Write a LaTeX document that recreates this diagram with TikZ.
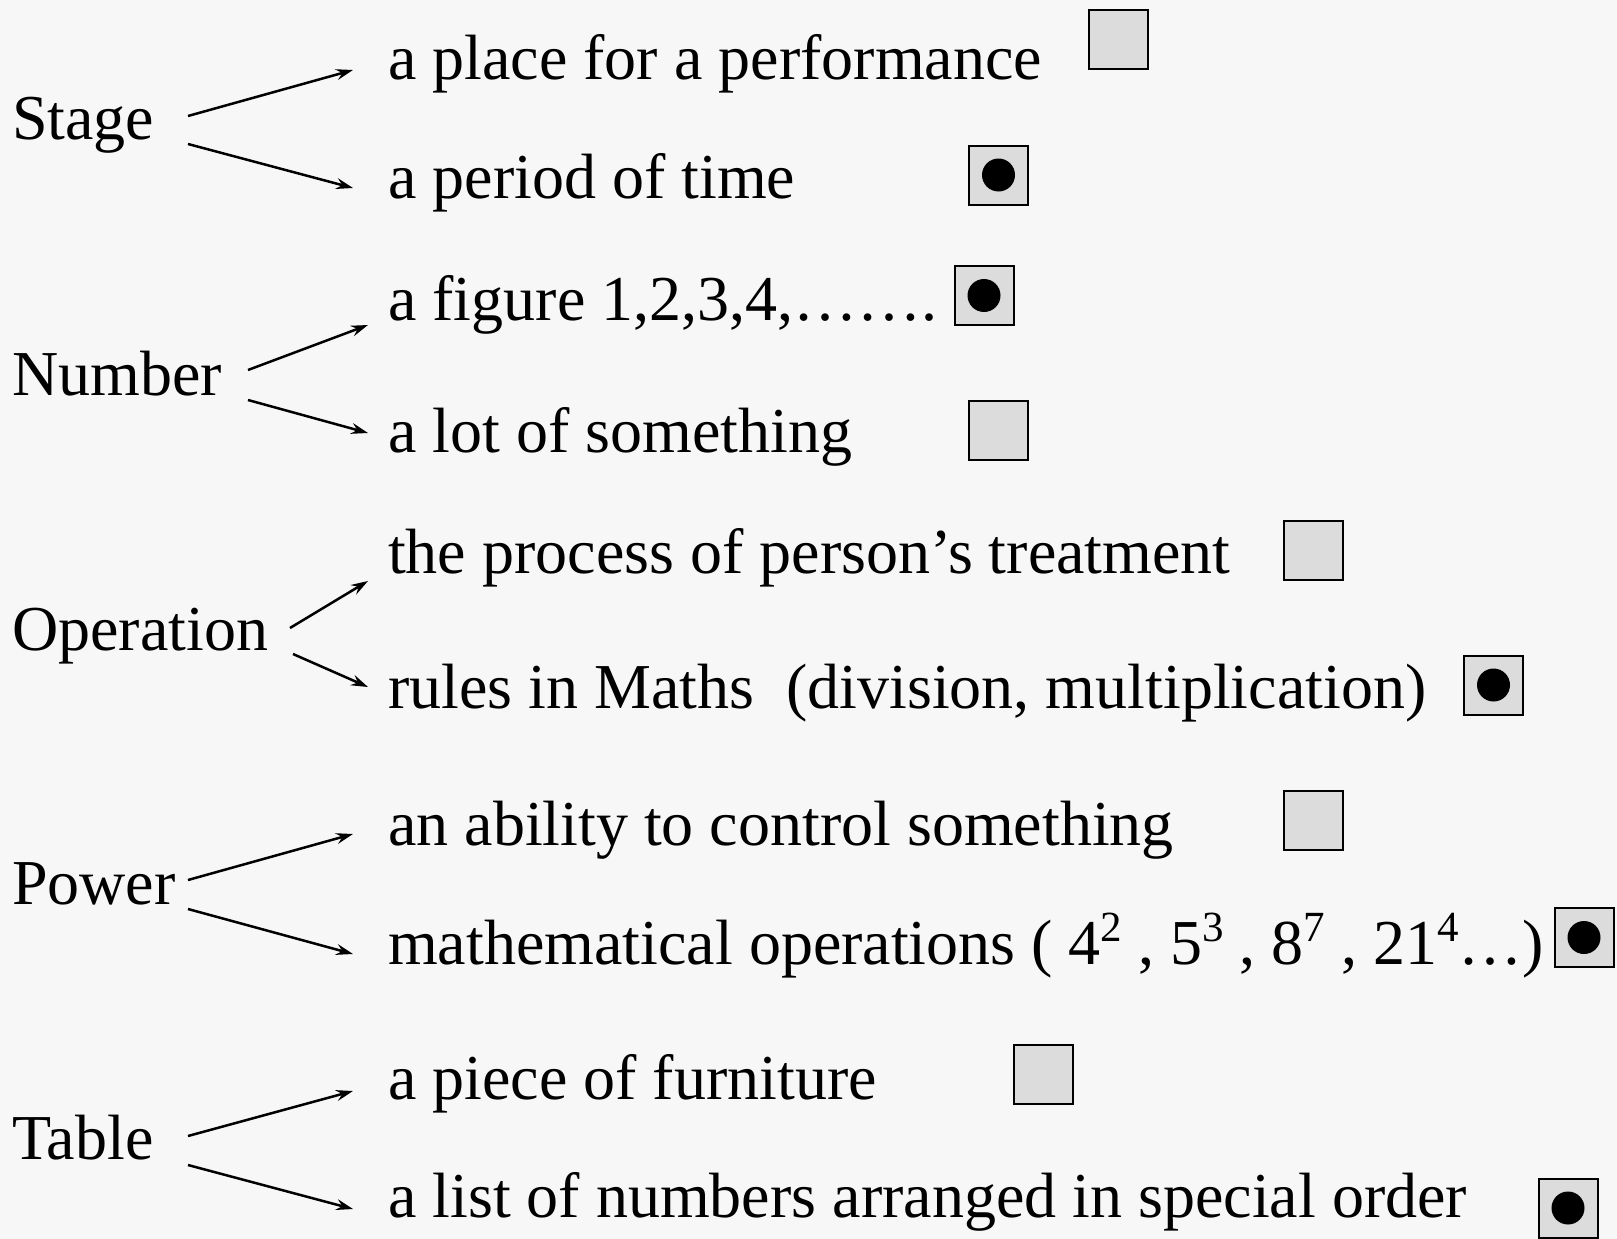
\documentclass[tikz,border=0pt]{standalone}
\usepackage{fontspec}
\setmainfont{Liberation Serif}
\usetikzlibrary{arrows.meta}

\definecolor{paper}{HTML}{F7F7F7}
\definecolor{boxgray}{HTML}{DCDCDC}

\newcommand{\pw}[1]{\raisebox{23pt}{\fontsize{43}{43}\selectfont #1}}

\tikzset{
  word/.style={anchor=base west,inner sep=0pt,font=\fontsize{64}{77}\selectfont},
  meaning/.style={word},
  tickbox/.style={draw,line width=2pt,fill=boxgray,minimum size=59pt,inner sep=0pt},
  link/.style={line width=2.5pt,-{Stealth[length=17pt,width=11pt,inset=6pt]}},
}

\begin{document}
\begin{tikzpicture}[x=1pt,y=-1pt]
\fill[paper] (0,0) rectangle (1617,1239);
\useasboundingbox (0,0) rectangle (1617,1239);

% Stage
\node[word] (stage) at (12,139) {Stage};
\node[meaning] (place) at (388,80) {a place for a performance};
\node[meaning] (period) at (388,198) {a period of time};
\draw[link] ([xshift=176pt,yshift=23pt]stage.base west) -- ([xshift=-35pt,yshift=10pt]place.base west);
\draw[link] ([xshift=176pt,yshift=-5pt]stage.base west) -- ([xshift=-35pt,yshift=10pt]period.base west);
\node[tickbox] (b1) at (1118.5,40) {};
\node[tickbox] (b2) at (998.5,175) {};
\fill (b2.center) circle (16.5);

% Number
\node[word] (number) at (12,395) {Number};
\node[meaning] (figure) at (388,320) {a figure 1,2,3,4,…….};
\node[meaning] (lot) at (388,452) {a lot of something};
\draw[link] ([xshift=236pt,yshift=25pt]number.base west) -- ([xshift=-20pt,yshift=-5pt]figure.base west);
\draw[link] ([xshift=236pt,yshift=-5pt]number.base west) -- ([xshift=-20pt,yshift=19pt]lot.base west);
\node[tickbox] (b3) at (984,295.5) {};
\fill (b3.center) circle (16.5);
\node[tickbox] (b4) at (998.5,430) {};

% Operation
\node[word] (operation) at (12,650) {Operation};
\node[meaning] (process) at (388,573) {the process of person’s treatment};
\node[meaning] (rules) at (388,708) {rules in Maths\ \ (division, multiplication)};
\draw[link] ([xshift=278pt,yshift=22pt]operation.base west) -- ([xshift=-20pt,yshift=-8pt]process.base west);
\draw[link] ([xshift=281pt,yshift=-4pt]operation.base west) -- ([xshift=-20pt,yshift=21pt]rules.base west);
\node[tickbox] (b5) at (1313,550) {};
\node[tickbox] (b6) at (1493.5,685) {};
\fill (b6.center) circle (16.5);

% Power
\node[word] (power) at (12,904) {Power};
\node[meaning] (ability) at (388,845) {an ability to control something};
\node[meaning] (mathops) at (388,964) {mathematical operations ( 4\pw{2} , 5\pw{3} , 8\pw{7} , 21\pw{4}…)};
\draw[link] ([xshift=176pt,yshift=24pt]power.base west) -- ([xshift=-35pt,yshift=11pt]ability.base west);
\draw[link] ([xshift=176pt,yshift=-5pt]power.base west) -- ([xshift=-35pt,yshift=10pt]mathops.base west);
\node[tickbox] (b7) at (1313,820) {};
\node[tickbox] (b8) at (1584,937.5) {};
\fill (b8.center) circle (16.5);

% Table
\node[word] (table) at (12,1159) {Table};
\node[meaning] (furniture) at (388,1099) {a piece of furniture};
\node[meaning] (list) at (388,1217) {a list of numbers arranged in special order};
\draw[link] ([xshift=176pt,yshift=23pt]table.base west) -- ([xshift=-35pt,yshift=8pt]furniture.base west);
\draw[link] ([xshift=176pt,yshift=-6pt]table.base west) -- ([xshift=-35pt,yshift=8pt]list.base west);
\node[tickbox] (b9) at (1043,1074) {};
\node[tickbox] (b10) at (1568,1208) {};
\fill (b10.center) circle (16.5);
\end{tikzpicture}
\end{document}
